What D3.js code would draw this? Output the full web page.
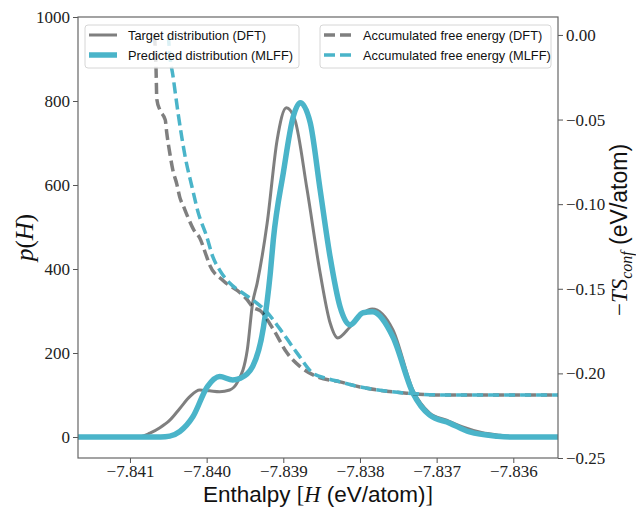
<!DOCTYPE html>
<html>
<head>
<meta charset="utf-8">
<script src="https://cdn.jsdelivr.net/npm/d3@7"></script>
<style>
  body { margin: 0; background: #fff; }
</style>
</head>
<body>
<script>
// Reference data
const dftX = [-7.8420, -7.8410, -7.84087, -7.84074, -7.84061, -7.84048, -7.84035, -7.84022, -7.84009, -7.83996, -7.83983, -7.83970, -7.83960, -7.83947, -7.83940, -7.83934, -7.83921, -7.83908, -7.83896, -7.83885, -7.83869, -7.83852, -7.83839, -7.83829, -7.83813, -7.83796, -7.83784, -7.83757, -7.83731, -7.83709, -7.83687, -7.83666, -7.83640, -7.83621, -7.83600, -7.83570, -7.8350];
const dftP = [0, 0, 0.5, 9, 22, 40, 68, 96, 112, 110, 108, 112, 130, 207, 319, 367, 510, 708, 784, 756, 589, 391, 272, 236, 262, 295, 305, 255, 112, 57, 40, 24, 10, 5, 1, 0, 0];

const mlffX = [-7.8420, -7.84060, -7.84048, -7.84035, -7.84018, -7.83999, -7.83983, -7.83966, -7.83956, -7.83940, -7.83926, -7.83917, -7.83913, -7.83900, -7.83887, -7.83878, -7.83865, -7.83852, -7.83839, -7.83826, -7.83813, -7.83796, -7.83784, -7.83757, -7.83731, -7.83709, -7.83683, -7.83657, -7.83621, -7.83600, -7.8350];
const mlffP = [0, 0, 2, 13, 48, 120, 144, 136, 140, 168, 260, 390, 470, 629, 763, 796, 749, 589, 429, 310, 267, 296, 298, 238, 105, 52, 33, 12, 2, 0, 0];

const dftAccX = [-7.84068, -7.84066, -7.84065, -7.84061, -7.84054, -7.84052, -7.84048, -7.84044, -7.84039, -7.84035, -7.84030, -7.84026, -7.84017, -7.84009, -7.84000, -7.83996, -7.83979, -7.83956, -7.83947, -7.83940, -7.83930, -7.83913, -7.83895, -7.83878, -7.83856, -7.83826, -7.83800, -7.83774, -7.83739, -7.83687, -7.8350];
const dftAcc = [0.000, -0.020, -0.038, -0.0443, -0.0502, -0.058, -0.070, -0.080, -0.088, -0.096, -0.1015, -0.106, -0.115, -0.120, -0.131, -0.136, -0.145, -0.1525, -0.1566, -0.1607, -0.163, -0.174, -0.188, -0.196, -0.202, -0.205, -0.208, -0.210, -0.2117, -0.2128, -0.2128];

const mlffAccX = [-7.84050, -7.84048, -7.84044, -7.84037, -7.84028, -7.84019, -7.84011, -7.84000, -7.83992, -7.83983, -7.83970, -7.83953, -7.83940, -7.83921, -7.83904, -7.83882, -7.83861, -7.83843, -7.83826, -7.83800, -7.83774, -7.83739, -7.83687, -7.8350];
const mlffAcc = [0.000, -0.012, -0.024, -0.047, -0.072, -0.090, -0.105, -0.119, -0.131, -0.139, -0.1466, -0.1525, -0.1566, -0.164, -0.174, -0.188, -0.200, -0.203, -0.205, -0.208, -0.210, -0.2117, -0.2128, -0.2128];

const xTicks = [-7.841, -7.840, -7.839, -7.838, -7.837, -7.836];
const leftTicks = [0, 200, 400, 600, 800, 1000];
const rightTicks = [0, -0.05, -0.10, -0.15, -0.20, -0.25];

const width = 636, height = 508;
const margins = { left: 78, right: 78, top: 17, bottom: 50 };
const grey = "#000", greyAlpha = 0.5;
const cyan = "#4ab4c9";
const serif = "'Liberation Serif', serif";
const sans = "'Liberation Sans', sans-serif";

// Scales
const xScale = d3.scaleLinear()
  .domain([-7.841678, -7.835417])
  .range([margins.left, width - margins.right]);
const yLeft = d3.scaleLinear()
  .domain([-50, 1000])
  .range([height - margins.bottom, margins.top]);
const yRight = d3.scaleLinear()
  .domain([-0.25, 0.0106])
  .range([height - margins.bottom, margins.top]);

const svg = d3.select("body").append("svg")
  .attr("width", width)
  .attr("height", height)
  .style("display", "block");

svg.append("clipPath").attr("id", "plot")
  .append("rect")
  .attr("x", margins.left).attr("y", margins.top)
  .attr("width", width - margins.left - margins.right)
  .attr("height", height - margins.top - margins.bottom);

const plot = svg.append("g").attr("clip-path", "url(#plot)");

const lineLeft = d3.line()
  .x((d) => xScale(d[0]))
  .y((d) => yLeft(d[1]))
  .curve(d3.curveMonotoneX);
const lineRight = d3.line()
  .x((d) => xScale(d[0]))
  .y((d) => yRight(d[1]))
  .curve(d3.curveMonotoneX);

// Distributions
plot.append("path")
  .attr("d", lineLeft(d3.zip(dftX, dftP)))
  .attr("fill", "none").attr("stroke", grey).attr("stroke-opacity", greyAlpha)
  .attr("stroke-width", 3);
plot.append("path")
  .attr("d", lineLeft(d3.zip(mlffX, mlffP)))
  .attr("fill", "none").attr("stroke", cyan)
  .attr("stroke-width", 5.5);

// Accumulated free energy (twin axis)
plot.append("path")
  .attr("d", lineRight(d3.zip(dftAccX, dftAcc)))
  .attr("fill", "none").attr("stroke", grey).attr("stroke-opacity", greyAlpha)
  .attr("stroke-width", 3.5).attr("stroke-dasharray", "11,5");
plot.append("path")
  .attr("d", lineRight(d3.zip(mlffAccX, mlffAcc)))
  .attr("fill", "none").attr("stroke", cyan)
  .attr("stroke-width", 3.5).attr("stroke-dasharray", "11,5");

// Axes
function styleAxis(g) {
  g.select(".domain").remove();
  g.selectAll(".tick line").attr("stroke", "#555").attr("stroke-width", 1);
  g.selectAll(".tick text")
    .attr("font-family", serif)
    .attr("font-size", "17px")
    .attr("fill", "#222");
}

svg.append("g")
  .attr("transform", `translate(0, ${height - margins.bottom})`)
  .call(d3.axisBottom(xScale).tickValues(xTicks).tickFormat(d3.format(".3f")).tickSize(5).tickPadding(2))
  .call(styleAxis);

svg.append("g")
  .attr("transform", `translate(${margins.left}, 0)`)
  .call(d3.axisLeft(yLeft).tickValues(leftTicks).tickFormat(d3.format("d")).tickSize(5).tickPadding(3))
  .call(styleAxis);

svg.append("g")
  .attr("transform", `translate(${width - margins.right}, 0)`)
  .call(d3.axisRight(yRight).tickValues(rightTicks).tickFormat(d3.format(".2f")).tickSize(5).tickPadding(3))
  .call(styleAxis);

// Frame
svg.append("rect")
  .attr("x", margins.left).attr("y", margins.top)
  .attr("width", width - margins.left - margins.right)
  .attr("height", height - margins.top - margins.bottom)
  .attr("fill", "none").attr("stroke", "#666").attr("stroke-width", 1.2);

// Axis labels
const xLabel = svg.append("text")
  .attr("x", (margins.left + width - margins.right) / 2)
  .attr("y", 502)
  .attr("text-anchor", "middle")
  .attr("font-size", "22.5px")
  .attr("fill", "#111");
xLabel.append("tspan").attr("font-family", sans).text("Enthalpy ");
xLabel.append("tspan").attr("font-family", serif).text("[");
xLabel.append("tspan").attr("font-family", serif).attr("font-style", "italic").text("H");
xLabel.append("tspan").attr("font-family", sans).text(" (eV/atom)");
xLabel.append("tspan").attr("font-family", serif).text("]");

const yLabel = svg.append("text")
  .attr("transform", `translate(33, ${(margins.top + height - margins.bottom) / 2}) rotate(-90)`)
  .attr("text-anchor", "middle")
  .attr("font-family", serif)
  .attr("font-size", "25px")
  .attr("fill", "#111");
yLabel.append("tspan").attr("font-style", "italic").text("p");
yLabel.append("tspan").text("(");
yLabel.append("tspan").attr("font-style", "italic").text("H");
yLabel.append("tspan").text(")");

const rLabel = svg.append("text")
  .attr("transform", "translate(627, 230) rotate(-90)")
  .attr("text-anchor", "middle")
  .attr("font-size", "23px")
  .attr("fill", "#111");
rLabel.append("tspan").attr("font-family", serif).text("−");
rLabel.append("tspan").attr("font-family", serif).attr("font-style", "italic").text("TS");
rLabel.append("tspan").attr("font-family", serif).attr("font-style", "italic")
  .attr("font-size", "16px").attr("dy", 5).text("conf");
rLabel.append("tspan").attr("font-family", sans).attr("dy", -5).text(" (eV/atom)");

// Legends
function legend(x, y, w, items) {
  const g = svg.append("g").attr("transform", `translate(${x}, ${y})`);
  g.append("rect")
    .attr("width", w).attr("height", 43)
    .attr("rx", 3)
    .attr("fill", "white").attr("fill-opacity", 0.8)
    .attr("stroke", "#d6d6d6").attr("stroke-width", 1);
  items.forEach((it, i) => {
    const cy = 10 + i * 20;
    g.append("line")
      .attr("x1", 4).attr("x2", 32)
      .attr("y1", cy).attr("y2", cy)
      .attr("stroke", it.color)
      .attr("stroke-opacity", it.opacity)
      .attr("stroke-width", it.width)
      .attr("stroke-dasharray", it.dash || null);
    g.append("text")
      .attr("x", 43).attr("y", cy + 4.5)
      .attr("font-family", sans)
      .attr("font-size", "12.8px")
      .attr("fill", "#111")
      .text(it.label);
  });
}

legend(85, 25, 214, [
  { label: "Target distribution (DFT)", color: grey, opacity: greyAlpha, width: 3 },
  { label: "Predicted distribution (MLFF)", color: cyan, opacity: 1, width: 5.5 }
]);
legend(320, 25, 231, [
  { label: "Accumulated free energy (DFT)", color: grey, opacity: greyAlpha, width: 3.5, dash: "11,5" },
  { label: "Accumulated free energy (MLFF)", color: cyan, opacity: 1, width: 3.5, dash: "11,5" }
]);
</script>
</body>
</html>
